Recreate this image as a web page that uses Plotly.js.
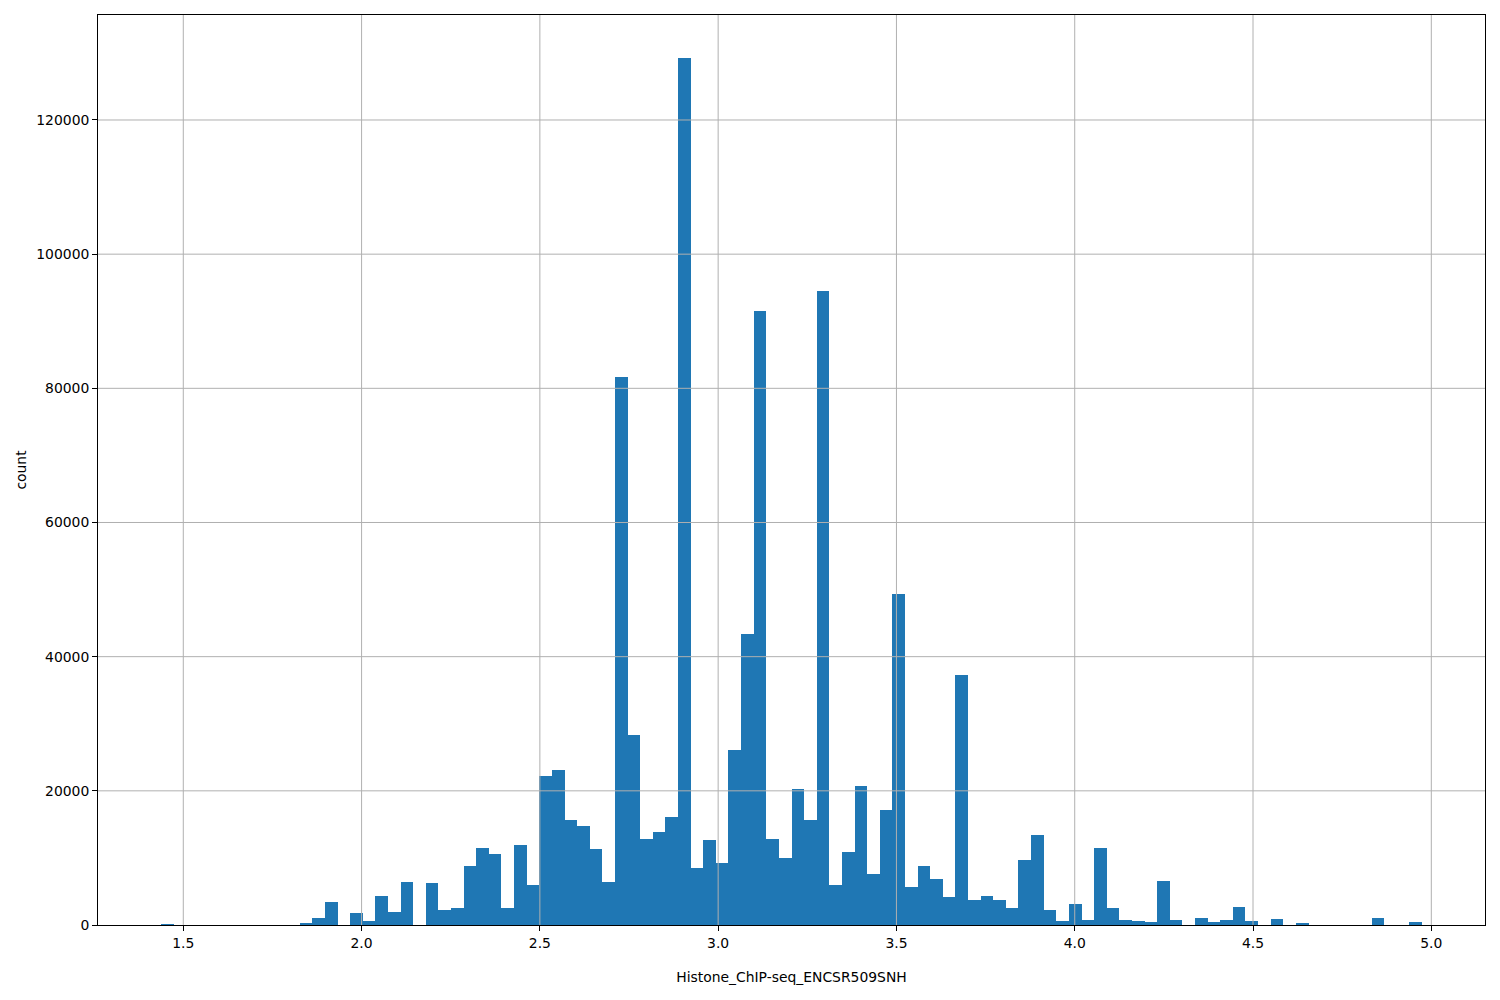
<!DOCTYPE html>
<html>
<head>
<meta charset="utf-8">
<script src="https://cdn.plot.ly/plotly-3.0.1.min.js"></script>
<style>html,body{margin:0;padding:0;background:#fff;}#chart{width:1500px;height:1000px;}</style>
</head>
<body>
<div id="chart"></div>
<script>
// Histogram: 100 equal bins
const binStart = 1.4375;
const binWidth = 0.035364;
const counts = [
  150, 0, 0, 0, 0, 0, 0, 0, 0, 0,
  0, 300, 1000, 3400, 0, 1800, 600, 4300, 1940, 6400,
  0, 6260, 2240, 2530, 8800, 11480, 10580, 2530, 11900, 5960,
  22200, 23100, 15650, 14760, 11330, 6400, 81700, 28320, 12820, 13860,
  16100, 129250, 8500, 12670, 9240, 26090, 43380, 91530, 12820, 9990,
  20270, 15650, 94510, 5960, 10880, 20720, 7600, 17140, 49340, 5660,
  8800, 6860, 4170, 37270, 3730, 4320, 3730, 2530, 9690, 13420,
  2240, 600, 3130, 750, 11480, 2530, 750, 600, 450, 6560,
  750, 0, 1040, 450, 750, 2680, 600, 0, 900, 0,
  300, 0, 0, 0, 0, 0, 1040, 0, 0, 450
];
const xTickVals = [1.5, 2.0, 2.5, 3.0, 3.5, 4.0, 4.5, 5.0];
const yTickVals = [0, 20000, 40000, 60000, 80000, 100000, 120000];
const xLabel = "Histone_ChIP-seq_ENCSR509SNH";
const yLabel = "count";

const centers = counts.map((c, i) => binStart + (i + 0.5) * binWidth);

const font = {family: "DejaVu Sans", size: 13.9, color: "#000"};
const gridStyle = {color: "#b0b0b0", width: 1};

// matplotlib draws the grid above the bars: use shapes on the tick positions
const shapes = [
  ...xTickVals.map(v => ({type: "line", layer: "above", xref: "x", yref: "paper",
    x0: v, x1: v, y0: 0, y1: 1, line: gridStyle})),
  ...yTickVals.filter(v => v > 0).map(v => ({type: "line", layer: "above", xref: "paper", yref: "y",
    x0: 0, x1: 1, y0: v, y1: v, line: gridStyle}))
];

Plotly.newPlot("chart", [{
  type: "bar",
  x: centers,
  y: counts,
  width: binWidth,
  marker: {color: "#1f77b4", line: {width: 0}},
  hoverinfo: "x+y"
}], {
  width: 1500, height: 1000,
  margin: {l: 98, r: 15, t: 15, b: 75, pad: 0},
  paper_bgcolor: "#fff", plot_bgcolor: "#fff",
  font: font,
  showlegend: false,
  bargap: 0,
  shapes: shapes,
  xaxis: {
    range: [1.2608, 5.1506],
    tickvals: xTickVals,
    ticktext: xTickVals.map(v => v.toFixed(1)),
    showgrid: false,
    zeroline: false,
    showline: true, mirror: true, linecolor: "#000", linewidth: 1,
    ticks: "outside", ticklen: 4.9, tickwidth: 1, tickcolor: "#000",
    tickfont: font,
    automargin: false,
    title: {text: xLabel, font: font, standoff: 22}
  },
  yaxis: {
    range: [0, 135650],
    tickvals: yTickVals,
    ticktext: yTickVals.map(v => String(v)),
    showgrid: false,
    zeroline: false,
    showline: true, mirror: true, linecolor: "#000", linewidth: 1,
    ticks: "outside", ticklen: 4.9, tickwidth: 1, tickcolor: "#000",
    tickfont: font,
    automargin: false,
    title: {text: yLabel, font: font, standoff: 6}
  }
}, {displayModeBar: false, staticPlot: true});
</script>
</body>
</html>
